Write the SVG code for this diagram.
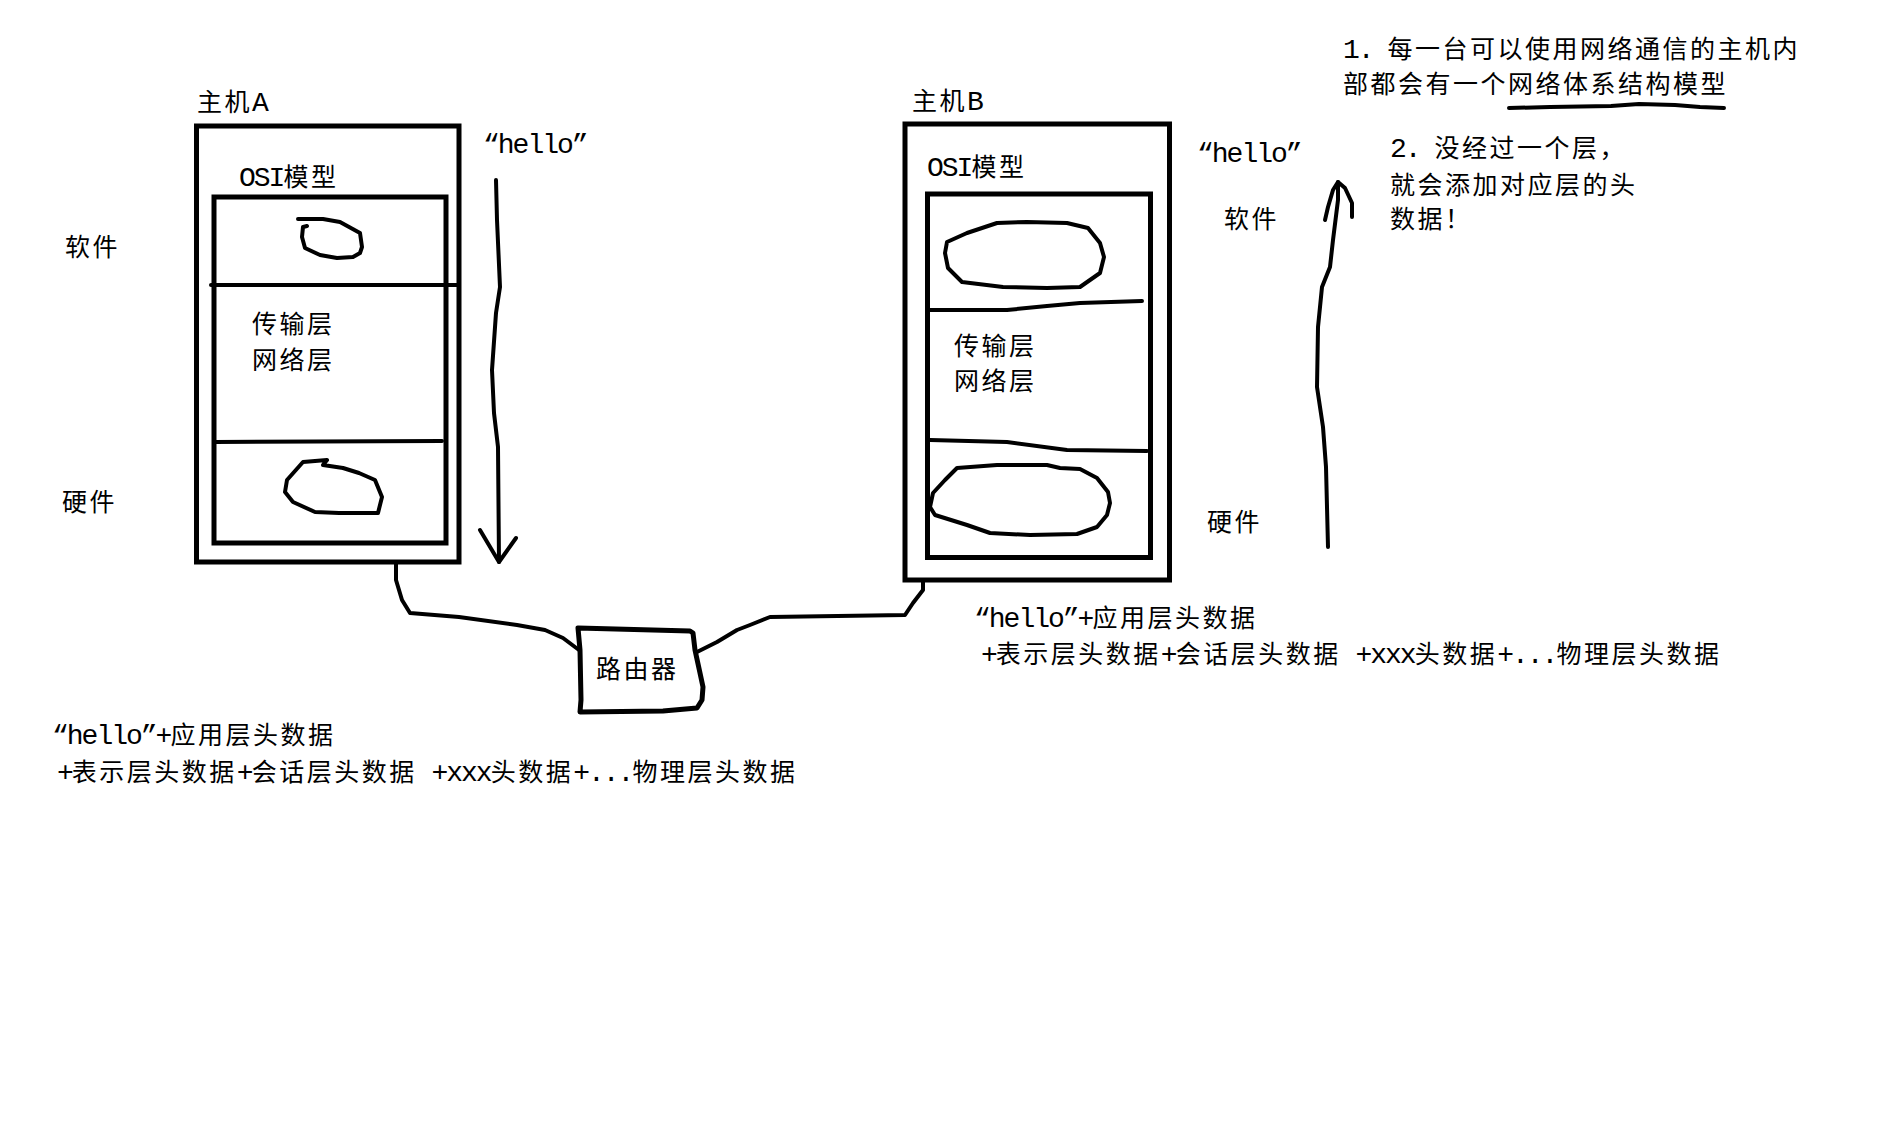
<svg xmlns="http://www.w3.org/2000/svg" width="1897" height="1143" viewBox="0 0 1897 1143">
<style>
.box{fill:none;stroke:#000;stroke-width:5}
.ink{fill:none;stroke:#000;stroke-width:4;stroke-linecap:round;stroke-linejoin:round}
text{font-family:"Noto Sans CJK SC","Noto Sans CJK JP",sans-serif;font-size:25px;letter-spacing:2.5px;fill:#000}
.l{font-family:"Liberation Mono","Noto Sans CJK SC",monospace;font-size:28px;letter-spacing:-2px}
</style>
<rect x="0" y="0" width="1897" height="1143" fill="#fff"/>

<g id="hostA">
  <text x="197" y="111">主机<tspan class="l">A</tspan></text>
  <rect class="box" x="196.5" y="126" width="262.5" height="436"/>
  <text x="239" y="186"><tspan class="l">OSI</tspan>模型</text>
  <rect class="box" x="214" y="197" width="232" height="346"/>
  <path class="ink" d="M211,285 L457,285"/>
  <path class="ink" d="M215,442 L442,441"/>
  <path class="ink" d="M298,219 L323,219 L340,222 L360,233 L362,247 L360,253 L353,257 L337,258 L320,255 L305,248 L302,237 L303,227 L307,226"/>
  <path class="ink" d="M327,460 L303,462 L287,480 L285,492 L293,502 L315,512 L339,513 L378,513 L382,497 L375,480 L359,473 L343,468 L323,465 L327,460"/>
  <text x="252" y="333">传输层</text>
  <text x="252" y="369">网络层</text>
</g>

<g id="hostA-side">
  <text x="65" y="256">软件</text>
  <text x="62" y="511">硬件</text>
  <text x="483" y="153"><tspan class="l">“hello”</tspan></text>
</g>

<g id="hostB">
  <text x="912" y="110">主机<tspan class="l">B</tspan></text>
  <rect class="box" x="905" y="124" width="264.5" height="456"/>
  <text x="927" y="176"><tspan class="l">OSI</tspan>模型</text>
  <rect class="box" x="927.5" y="194" width="223" height="363.5"/>
  <path class="ink" d="M947,242 L967,233 L997,223 L1027,222 L1067,223 L1088,228 L1100,243 L1104,257 L1100,273 L1080,287 L1047,288 L1003,287 L962,282 L948,268 L945,253 Z"/>
  <path class="ink" d="M930,310 L1007,310 L1047,306 L1080,303 L1142,301"/>
  <text x="954" y="355">传输层</text>
  <text x="954" y="390">网络层</text>
  <path class="ink" d="M930,440 L1007,442 L1067,450 L1147,451"/>
  <path class="ink" d="M957,468 L997,465 L1047,465 L1060,468 L1080,469 L1097,478 L1108,492 L1110,503 L1107,515 L1097,527 L1077,534 L1030,535 L990,533 L967,525 L935,515 L930,507 L933,493 L945,480 Z"/>
</g>

<g id="hostB-side">
  <text x="1197" y="162"><tspan class="l">“hello”</tspan></text>
  <text x="1224" y="228">软件</text>
  <text x="1207" y="531">硬件</text>
</g>

<g id="router">
  <path class="box" stroke-linejoin="round" d="M578,628 L690,631 L693,633 L695,650 L700,673 L703,687 L702,700 L697,708 L663,711 L580,712 L581,700 L580,650 Z"/>
  <text x="596" y="678">路由器</text>
</g>

<g id="connectors">
  <path class="ink" d="M396,563 L396,580 L402,600 L410,613 L459,617 L517,625 L545,630 L563,638 L579,650"/>
  <path class="ink" d="M697,652 L717,642 L737,630 L750,625 L770,617 L905,615 L913,603 L923,590 L923,582"/>
</g>

<g id="flow-arrows">
  <path class="ink" d="M496,180 L497,220 L500,287 L496,313 L492,370 L494,413 L498,447 L499,562"/>
  <path class="ink" d="M480,530 L499,562 L516,538"/>
  <path class="ink" d="M1328,547 L1326,467 L1323,427 L1317,387 L1318,327 L1322,287 L1330,267 L1333,240 L1338,200 L1338,182"/>
  <path class="ink" d="M1325,220 L1328,207 L1333,190 L1338,182 L1345,188 L1352,203 L1352,217"/>
</g>

<g id="notes">
  <text x="1343" y="58"><tspan class="l">1. </tspan>每一台可以使用网络通信的主机内</text>
  <text x="1343" y="93">部都会有一个网络体系结构模型</text>
  <path class="ink" d="M1509,108 L1550,107 L1611,106 L1639,104 L1675,105 L1700,107 L1724,108"/>
  <text x="1390" y="157"><tspan class="l">2. </tspan>没经过一个层，</text>
  <text x="1390" y="194">就会添加对应层的头</text>
  <text x="1390" y="228">数据！</text>
</g>

<g id="payload-A">
  <text x="52" y="744"><tspan class="l">“hello”+</tspan>应用层头数据</text>
  <text x="57" y="781"><tspan class="l">+</tspan>表示层头数据<tspan class="l">+</tspan>会话层头数据<tspan class="l"> +xxx</tspan>头数据<tspan class="l">+...</tspan>物理层头数据</text>
</g>

<g id="payload-B">
  <text x="974" y="627"><tspan class="l">“hello”+</tspan>应用层头数据</text>
  <text x="981" y="663"><tspan class="l">+</tspan>表示层头数据<tspan class="l">+</tspan>会话层头数据<tspan class="l"> +xxx</tspan>头数据<tspan class="l">+...</tspan>物理层头数据</text>
</g>
</svg>
